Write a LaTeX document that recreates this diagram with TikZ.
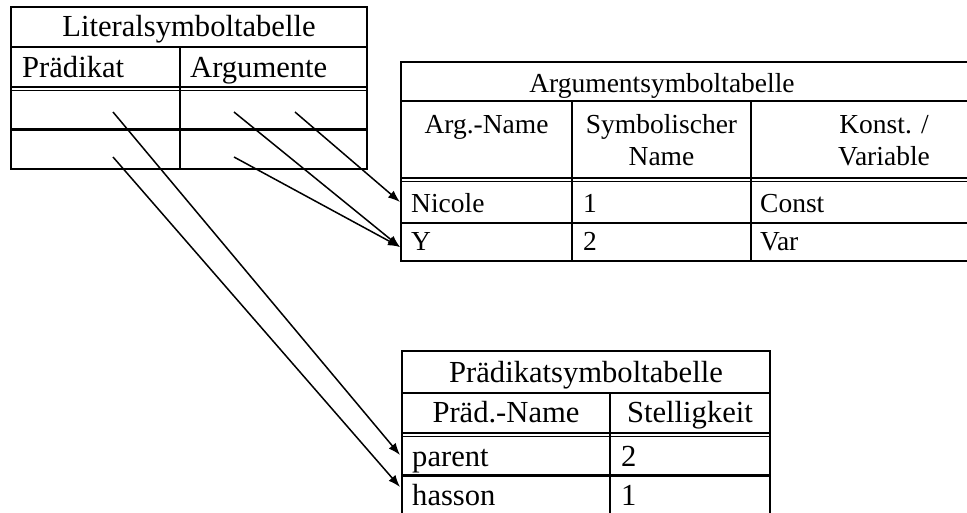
\documentclass[tikz,border=0pt]{standalone}
\usepackage{fontspec}
\setmainfont{Liberation Serif}
\usetikzlibrary{arrows.meta}
\begin{document}
\begin{tikzpicture}[x=1pt,y=-1pt,
  frame/.style={line width=2.6pt},
  thin2/.style={line width=1.7pt},
  big/.style={font=\fontsize{30.6}{36}\selectfont, inner sep=0pt},
  small/.style={font=\fontsize{27.5}{32}\selectfont, inner sep=0pt},
  link/.style={line width=1.5pt, -{Latex[length=12pt,width=9pt]}}]
\useasboundingbox (0,0) rectangle (967,512);
\clip (0,0) rectangle (967,512);
% ---------- Literalsymboltabelle ----------
\draw[frame] (11,7) rectangle (367,169);
\draw[frame] (11,47) -- (367,47);
\draw[thin2] (11,87) -- (367,87);
\draw[thin2] (11,90.5) -- (367,90.5);
\draw[frame] (11,129.5) -- (367,129.5);
\draw[frame] (180,47) -- (180,169);
\node[big, anchor=base] (littitle) at (189,36) {Literalsymboltabelle};
\node[big, anchor=base west] (litpraed) at (22,77) {Prädikat};
\node[big, anchor=base west] (litarg) at (190,77) {Argumente};
% ---------- Argumentsymboltabelle ----------
\draw[frame] (1000,62) -- (401,62) -- (401,261) -- (1000,261);
\draw[frame] (401,101) -- (1000,101);
\draw[thin2] (401,178) -- (1000,178);
\draw[thin2] (401,181.5) -- (1000,181.5);
\draw[frame] (401,223) -- (1000,223);
\draw[frame] (572,101) -- (572,261);
\draw[frame] (751,101) -- (751,261);
\node[small, anchor=base] (argtitle) at (662,92) {Argumentsymboltabelle};
\node[small, anchor=base] (arghA) at (486.5,133) {Arg.-Name};
\node[small, anchor=base] (arghB1) at (661.5,133) {Symbolischer};
\node[small, anchor=base] (arghB2) at (661.5,165) {Name};
\node[small, anchor=base] (arghC1) at (884,133) {Konst. /};
\node[small, anchor=base] (arghC2) at (884,165) {Variable};
\node[small, anchor=base west] (nicole) at (411,212) {Nicole};
\node[small, anchor=base west] (n1) at (583,212) {1};
\node[small, anchor=base west] (nconst) at (760,212) {Const};
\node[small, anchor=base west] (yvar) at (411,250) {Y};
\node[small, anchor=base west] (y2) at (583,250) {2};
\node[small, anchor=base west] (yv) at (760,250) {Var};
% ---------- Prädikatsymboltabelle ----------
\draw[frame] (402,530) -- (402,351) -- (770,351) -- (770,530);
\draw[frame] (402,393) -- (770,393);
\draw[thin2] (402,433) -- (770,433);
\draw[thin2] (402,436.5) -- (770,436.5);
\draw[frame] (402,475.5) -- (770,475.5);
\draw[frame] (610,393) -- (610,530);
\node[big, anchor=base] (prtitle) at (586,382) {Prädikatsymboltabelle};
\node[big, anchor=base] (prhA) at (506,422) {Präd.-Name};
\node[big, anchor=base] (prhB) at (690,422) {Stelligkeit};
\node[big, anchor=base west] (parent) at (412,466) {parent};
\node[big, anchor=base west] (p2) at (621,466) {2};
\node[big, anchor=base west] (hasson) at (412,505) {hasson};
\node[big, anchor=base west] (h1) at (621,505) {1};
% ---------- connectors ----------
\coordinate (s1) at (113,112);
\coordinate (s2) at (113,157);
\coordinate (s3) at (234,112);
\coordinate (s4) at (295,112);
\coordinate (s5) at (234,157);
\coordinate (tnicole) at (400,202);
\coordinate (ty) at (400,247);
\coordinate (tparent) at (400,455);
\coordinate (thasson) at (400,487);
\draw[link] (s1) -- (tparent);
\draw[link] (s2) -- (thasson);
\draw[link] (s3) -- (ty);
\draw[link] (s4) -- (tnicole);
\draw[link] (s5) -- (ty);
\end{tikzpicture}
\end{document}
